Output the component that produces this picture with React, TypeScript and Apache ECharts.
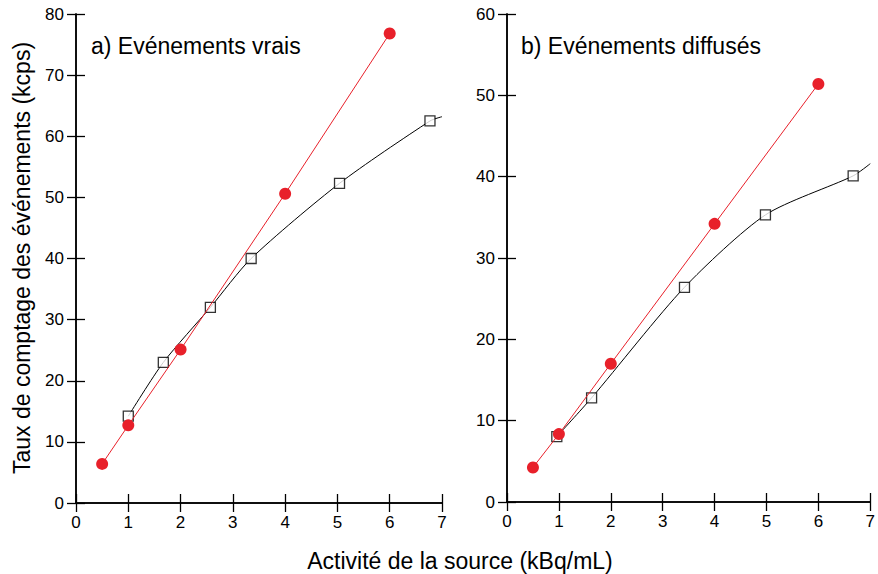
import React, { useEffect, useRef } from "react";
import * as echarts from "echarts";

// Panel a) true events
const trueRedX = [0.5, 1, 2, 4, 6];
const trueRedY = [6.4, 12.7, 25.1, 50.6, 76.8];
const trueSqX = [1.0, 1.67, 2.57, 3.35, 5.04, 6.77];
const trueSqY = [14.2, 23.0, 32.0, 40.0, 52.3, 62.5];
const trueFitX = [1.0, 1.67, 2.57, 3.35, 5.04, 6.77, 7.0];
const trueFitY = [14.2, 23.0, 32.0, 40.0, 52.3, 62.5, 63.2];

// Panel b) scattered events
const scatRedX = [0.5, 1, 2, 4, 6];
const scatRedY = [4.25, 8.35, 17.0, 34.2, 51.4];
const scatSqX = [0.96, 1.63, 3.42, 4.98, 6.67];
const scatSqY = [8.05, 12.8, 26.4, 35.3, 40.1];
const scatFitX = [0.96, 1.63, 3.42, 4.98, 6.67, 7.0];
const scatFitY = [8.05, 12.8, 26.4, 35.3, 40.1, 41.6];

const xTicks = [0, 1, 2, 3, 4, 5, 6, 7];
const panelTitles = ["a) Evénements vrais", "b) Evénements diffusés"];
const xTitle = "Activité de la source (kBq/mL)";
const yTitle = "Taux de comptage des événements (kcps)";

const zip = (xs: number[], ys: number[]) => xs.map((x, i) => [x, ys[i]]);

const FONT = "Liberation Sans, Arial, Helvetica, sans-serif";
const RED = "#e8202a";

export default function App() {
  const ref = useRef<HTMLDivElement>(null);
  useEffect(() => {
    if (!ref.current) return;
    const chart = echarts.init(ref.current, null, { renderer: "svg" });
    const axisLine = { show: true, lineStyle: { color: "#000", width: 1.5 } };
    const tick = { show: true, inside: true, length: 9, lineStyle: { color: "#000", width: 1.3 } };
    const lbl = { color: "#000", fontSize: 17, fontFamily: FONT, margin: 11 };
    const xBase = (gi: number, pos: "bottom" | "top") => ({
      type: "value",
      gridIndex: gi,
      position: pos,
      min: xTicks[0],
      max: xTicks[xTicks.length - 1],
      interval: 1,
      axisLine,
      axisTick: tick,
      axisLabel: pos === "bottom" ? lbl : { show: false },
      splitLine: { show: false },
    });
    const yBase = (gi: number, pos: "left" | "right", max: number) => ({
      type: "value",
      gridIndex: gi,
      position: pos,
      min: 0,
      max,
      interval: 10,
      axisLine,
      axisTick: tick,
      axisLabel: pos === "left" ? { ...lbl, margin: 12 } : { show: false },
      splitLine: { show: false },
    });
    const fit = (xi: number, yi: number, data: number[][]) => ({
      type: "line",
      xAxisIndex: xi,
      yAxisIndex: yi,
      data,
      smooth: 0.25,
      showSymbol: false,
      symbol: "none",
      lineStyle: { color: "#000", width: 1 },
      z: 2,
    });
    const redLine = (xi: number, yi: number, data: number[][]) => ({
      type: "line",
      xAxisIndex: xi,
      yAxisIndex: yi,
      data,
      symbol: "circle",
      symbolSize: 12,
      itemStyle: { color: RED },
      lineStyle: { color: RED, width: 1 },
      z: 4,
    });
    const squares = (xi: number, yi: number, data: number[][]) => ({
      type: "scatter",
      xAxisIndex: xi,
      yAxisIndex: yi,
      data,
      symbol: "rect",
      symbolSize: 10,
      itemStyle: { color: "#fff", borderColor: "#000", borderWidth: 1.3 },
      z: 3,
    });
    chart.setOption({
      animation: false,
      backgroundColor: "#fff",
      grid: [
        { left: 76, top: 14, width: 366, height: 489 },
        { left: 507, top: 14, width: 366, height: 488 },
      ],
      xAxis: [xBase(0, "bottom"), xBase(0, "top"), xBase(1, "bottom"), xBase(1, "top")],
      yAxis: [yBase(0, "left", 80), yBase(0, "right", 80), yBase(1, "left", 60), yBase(1, "right", 60)],
      series: [
        fit(0, 0, zip(trueFitX, trueFitY)),
        squares(0, 0, zip(trueSqX, trueSqY)),
        redLine(0, 0, zip(trueRedX, trueRedY)),
        fit(2, 2, zip(scatFitX, scatFitY)),
        squares(2, 2, zip(scatSqX, scatSqY)),
        redLine(2, 2, zip(scatRedX, scatRedY)),
      ],
      graphic: [
        {
          type: "text",
          left: 91,
          top: 34,
          style: { text: panelTitles[0], fontSize: 23, fontFamily: FONT, fill: "#000" },
        },
        {
          type: "text",
          left: 521,
          top: 34,
          style: { text: panelTitles[1], fontSize: 23, fontFamily: FONT, fill: "#000" },
        },
        {
          type: "text",
          x: 460,
          y: 561,
          style: {
            text: xTitle,
            fontSize: 23,
            fontFamily: FONT,
            fill: "#000",
            align: "center",
            verticalAlign: "middle",
          },
        },
        {
          type: "text",
          x: 22,
          y: 258,
          rotation: Math.PI / 2,
          style: {
            text: yTitle,
            fontSize: 23,
            fontFamily: FONT,
            fill: "#000",
            align: "center",
            verticalAlign: "middle",
          },
        },
      ],
    });
    return () => chart.dispose();
  }, []);
  return <div ref={ref} style={{ width: 878, height: 574, position: "absolute", left: 0, top: 0 }} />;
}
